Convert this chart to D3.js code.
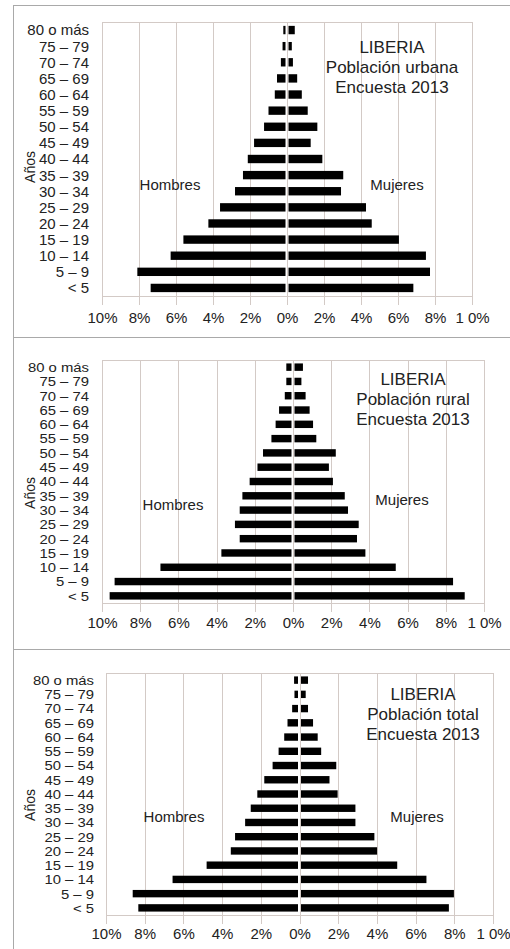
<!DOCTYPE html>
<html>
<head>
<meta charset="utf-8">
<script src="https://cdn.jsdelivr.net/npm/d3@7"></script>
<style>
  body { margin: 0; background: #fff; }
  svg { display: block; font-family: "Liberation Sans", Arial, sans-serif; }
  .grid line { stroke: #d3cac6; stroke-width: 1; }
  .axis path { display: none; }
  .axis text { fill: #222; }
</style>
</head>
<body>
<svg id="chart" width="510" height="949"></svg>
<script>
// age groups, youngest first
var ageGroups = ['< 5', '5 – 9', '10 – 14', '15 – 19', '20 – 24', '25 – 29', '30 – 34', '35 – 39',
  '40 – 44', '45 – 49', '50 – 54', '55 – 59', '60 – 64', '65 – 69', '70 – 74', '75 – 79', '80 o más'];

// percent of population, same order as ageGroups
var urbanMen   = [7.37, 8.09, 6.29, 5.6, 4.25, 3.62, 2.81, 2.38, 2.12, 1.78, 1.24, 1.0, 0.66, 0.54, 0.33, 0.24, 0.2];
var urbanWomen = [6.83, 7.73, 7.51, 6.05, 4.58, 4.27, 2.92, 3.04, 1.91, 1.28, 1.64, 1.12, 0.8, 0.55, 0.32, 0.26, 0.42];
var ruralMen   = [9.6, 9.34, 6.94, 3.75, 2.79, 3.04, 2.79, 2.65, 2.27, 1.86, 1.57, 1.13, 0.91, 0.73, 0.43, 0.35, 0.35];
var ruralWomen = [8.99, 8.38, 5.38, 3.79, 3.35, 3.44, 2.88, 2.71, 2.09, 1.88, 2.24, 1.22, 1.05, 0.87, 0.66, 0.44, 0.52];
var totalMen   = [8.33, 8.62, 6.56, 4.8, 3.55, 3.33, 2.81, 2.52, 2.18, 1.82, 1.39, 1.08, 0.79, 0.62, 0.38, 0.26, 0.28];
var totalWomen = [7.72, 7.98, 6.56, 5.05, 4.01, 3.87, 2.89, 2.89, 1.97, 1.55, 1.9, 1.12, 0.94, 0.7, 0.44, 0.32, 0.44];

var tickValues = [-10, -8, -6, -4, -2, 0, 2, 4, 6, 8, 10];
var tickLabels = ['10%', '8%', '6%', '4%', '2%', '0%', '2%', '4%', '6%', '8%', '1 0%'];

var titles = [
  ['LIBERIA', 'Población urbana', 'Encuesta 2013'],
  ['LIBERIA', 'Población rural', 'Encuesta 2013'],
  ['LIBERIA', 'Población total', 'Encuesta 2013']
];

// layout of each panel (box + plot area + text spots)
// labelSize / labelStretch: the lower two panels have tighter rows, so the age text is squeezed
var panels = [
  { men: urbanMen, women: urbanWomen, title: titles[0],
    box: [5, 337], plot: { l: 102, r: 472, t: 22, b: 296 }, labelSize: 15, labelStretch: 1,
    titleX: 392, titleY: 53, hombres: [170, 190], mujeres: [397, 190], anosY: 167, labelX: 89, tickY: 323 },
  { men: ruralMen, women: ruralWomen, title: titles[1],
    box: [337, 649], plot: { l: 102, r: 484, t: 360, b: 603 }, labelSize: 13.5, labelStretch: 1.1,
    titleX: 413, titleY: 385, hombres: [173, 510], mujeres: [402, 505], anosY: 493, labelX: 89, tickY: 628 },
  { men: totalMen, women: totalWomen, title: titles[2],
    box: [649, 960], plot: { l: 106, r: 493, t: 673, b: 915 }, labelSize: 13.5, labelStretch: 1.1,
    titleX: 423, titleY: 700, hombres: [174, 822], mujeres: [417, 822], anosY: 805, labelX: 94, tickY: 939 }
];

var svg = d3.select('#chart');

panels.forEach(function(p){
  var g = svg.append('g');

  // panel frame
  g.append('rect')
    .attr('x', 13.5).attr('y', p.box[0] + 0.5)
    .attr('width', 520).attr('height', p.box[1] - p.box[0])
    .attr('fill', '#fff').attr('stroke', '#a9a9a9');

  var x = d3.scaleLinear().domain([-10, 10]).range([p.plot.l, p.plot.r]);
  var y = d3.scaleBand().domain(ageGroups.slice().reverse())
    .range([p.plot.t, p.plot.b]).paddingInner(0.48).paddingOuter(0.24);

  // vertical gridlines, running a bit below the plot as ticks
  g.append('g').attr('class', 'grid')
    .selectAll('line').data(tickValues).enter().append('line')
    .attr('x1', function(d){ return Math.round(x(d)) + 0.5; })
    .attr('x2', function(d){ return Math.round(x(d)) + 0.5; })
    .attr('y1', p.plot.t).attr('y2', p.plot.b + 9);

  g.append('g').attr('class', 'grid').append('line')
    .attr('x1', p.plot.l).attr('x2', p.plot.r)
    .attr('y1', p.plot.t + 0.5).attr('y2', p.plot.t + 0.5);
  g.append('g').attr('class', 'grid').append('line')
    .attr('x1', p.plot.l).attr('x2', p.plot.r)
    .attr('y1', p.plot.b + 0.5).attr('y2', p.plot.b + 0.5);

  // bars
  var x0 = x(0);
  g.append('g').selectAll('rect.men').data(p.men).enter().append('rect')
    .attr('x', function(d){ return x(-d); })
    .attr('y', function(d, i){ return y(ageGroups[i]); })
    .attr('width', function(d){ return Math.max(0, x0 - 1.5 - x(-d)); })
    .attr('height', y.bandwidth())
    .attr('fill', '#000');
  g.append('g').selectAll('rect.women').data(p.women).enter().append('rect')
    .attr('x', x0 + 1.5)
    .attr('y', function(d, i){ return y(ageGroups[i]); })
    .attr('width', function(d){ return Math.max(0, x(d) - x0 - 1.5); })
    .attr('height', y.bandwidth())
    .attr('fill', '#000');

  // x axis labels
  var xAxis = d3.axisBottom(x).tickValues(tickValues).tickSize(0)
    .tickFormat(function(d, i){ return tickLabels[i]; });
  g.append('g').attr('class', 'axis')
    .attr('transform', 'translate(0,' + (p.tickY - 12) + ')')
    .call(xAxis)
    .selectAll('text').attr('font-size', 15).attr('dy', 0).attr('y', 12);

  // age labels
  var yAxis = d3.axisLeft(y).tickSize(0).tickPadding(0);
  g.append('g').attr('class', 'axis')
    .attr('transform', 'translate(' + p.labelX + ',0)')
    .call(yAxis)
    .selectAll('text')
    .attr('font-size', p.labelSize).attr('dy', '0.36em')
    .attr('transform', 'scale(' + p.labelStretch + ',1)');

  // Años
  g.append('text')
    .attr('transform', 'translate(35,' + p.anosY + ') rotate(-90)')
    .attr('text-anchor', 'middle').attr('font-size', 14).attr('fill', '#222')
    .text('Años');

  // Hombres / Mujeres
  g.append('text').attr('x', p.hombres[0]).attr('y', p.hombres[1])
    .attr('text-anchor', 'middle').attr('font-size', 15).attr('fill', '#222').text('Hombres');
  g.append('text').attr('x', p.mujeres[0]).attr('y', p.mujeres[1])
    .attr('text-anchor', 'middle').attr('font-size', 15).attr('fill', '#222').text('Mujeres');

  // title block
  g.append('g').selectAll('text').data(p.title).enter().append('text')
    .attr('x', p.titleX)
    .attr('y', function(d, i){ return p.titleY + i * 20; })
    .attr('text-anchor', 'middle').attr('font-size', 17).attr('fill', '#222')
    .text(function(d){ return d; });
});
</script>
</body>
</html>
